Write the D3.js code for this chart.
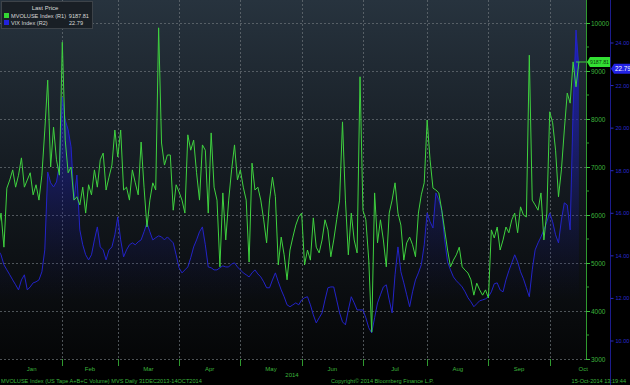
<!DOCTYPE html>
<html>
<head>
<meta charset="utf-8">
<script src="https://cdn.jsdelivr.net/npm/d3@7"></script>
<style>
  html, body { margin: 0; padding: 0; background: #000; }
  svg { display: block; }
  text { font-family: "Liberation Sans", Arial, sans-serif; }
</style>
</head>
<body>
<svg class="main-chart" width="630" height="385"></svg>
<script>
// ---------------------------------------------------------------
// data : daily closes, 31 Dec 2013 .. 14 Oct 2014 (trading days)
// ---------------------------------------------------------------
var holidays = ["2014-01-01", "2014-01-20", "2014-02-17", "2014-04-18", "2014-05-26", "2014-07-04", "2014-09-01"];
var monthNames = ["Jan", "Feb", "Mar", "Apr", "May", "Jun", "Jul", "Aug", "Sep", "Oct"];

var mvoluse = [5690, 6040, 5330, 6560, 6730, 6940, 6580, 6830, 7190, 6580,
  6730, 6880, 6420, 6630, 6310, 6830, 7770, 8810, 7000, 7830,
  7150, 6830, 9600, 7560, 6880, 7000, 6310, 6380, 6210, 6580,
  6040, 6630, 6420, 6940, 6580, 7150, 7290, 6520, 6790, 7040,
  7770, 7210, 7770, 6520, 6580, 6310, 6940, 6670, 6420, 7520,
  6580, 5750, 6310, 6670, 6520, 9900, 7500, 7040, 7250, 7250,
  6100, 6630, 6480, 6310, 6040, 7670, 7350, 7560, 6880, 6310,
  7460, 7350, 6040, 7710, 6580, 6310, 4920, 6460, 5480, 6310,
  6940, 7460, 6730, 6940, 6580, 6310, 5020, 7080, 6520, 6580,
  6310, 5900, 5420, 6310, 6790, 6380, 4960, 5540, 5170, 4650,
  5270, 5540, 5790, 5960, 6040, 4960, 5270, 5060, 5940, 5330,
  5210, 5480, 5900, 5690, 5130, 5480, 5900, 6310, 7940, 6310,
  5170, 6040, 5480, 5210, 8880, 6100, 5900, 5060, 3560, 6460,
  5420, 5900, 5480, 4920, 6040, 6310, 6670, 6040, 5790, 5060,
  5420, 5540, 5380, 5130, 6040, 6420, 6670, 7980, 7150, 6560,
  6520, 6460, 6100, 5690, 5270, 4920, 5060, 5170, 5330, 4920,
  4850, 4790, 4650, 4330, 4580, 4440, 4330, 4440, 4270, 5690,
  5520, 5750, 5270, 5480, 5750, 5630, 5900, 6040, 5630, 6170,
  6000, 5960, 9330, 6310, 6210, 6100, 6460, 5480, 6040, 8150,
  7920, 7350, 6380, 6940, 7770, 8540, 8330, 9190, 8670, 9187.81];

var vix = [14.28, 14.05, 13.58, 13.34, 13.11, 12.87, 12.64, 12.40, 12.87, 13.11,
  12.40, 12.54, 12.73, 12.78, 12.87, 13.25, 14.28, 17.94, 17.43, 17.24,
  17.47, 18.27, 21.46, 20.38, 19.92, 19.12, 16.63, 17.80, 15.22, 14.52,
  14.05, 13.81, 14.05, 14.75, 15.36, 14.42, 14.28, 13.81, 14.28, 14.42,
  14.99, 15.83, 14.75, 13.95, 14.28, 14.52, 14.61, 14.52, 14.66, 14.75,
  15.13, 15.55, 15.13, 14.75, 14.85, 14.94, 14.89, 14.75, 14.89, 14.75,
  14.61, 14.05, 13.44, 13.20, 13.34, 13.48, 13.91, 14.42, 14.75, 15.13,
  15.36, 14.52, 13.48, 13.44, 13.34, 13.34, 13.44, 13.53, 13.48, 13.48,
  13.62, 13.67, 13.48, 13.34, 13.20, 13.11, 13.01, 13.20, 13.34, 13.15,
  13.01, 12.78, 12.50, 12.50, 12.87, 13.20, 12.78, 12.40, 12.08, 11.70,
  11.61, 11.70, 11.79, 11.70, 11.93, 12.03, 12.08, 11.70, 11.23, 10.85,
  11.09, 11.32, 11.93, 12.50, 12.54, 12.54, 11.93, 11.32, 10.90, 10.76,
  11.46, 12.08, 11.79, 11.46, 11.46, 11.46, 11.09, 10.62, 10.38, 11.09,
  11.79, 12.17, 12.54, 12.64, 11.93, 11.32, 13.11, 14.42, 13.25, 12.73,
  12.17, 11.61, 12.31, 12.87, 13.20, 13.58, 14.52, 16.02, 15.60, 15.31,
  16.96, 16.63, 16.16, 14.75, 13.72, 13.34, 13.01, 12.83, 12.69, 12.54,
  12.31, 12.03, 11.84, 11.61, 11.75, 11.89, 11.93, 11.98, 12.08, 12.31,
  12.69, 12.73, 12.40, 12.31, 12.87, 13.30, 13.67, 14.05, 13.72, 13.25,
  12.92, 12.50, 12.08, 13.34, 14.28, 14.61, 14.89, 15.22, 15.60, 16.02,
  15.60, 14.99, 14.61, 15.69, 16.49, 16.39, 15.22, 20.85, 24.61, 22.79];

var greenTicks = [3000, 4000, 5000, 6000, 7000, 8000, 9000, 10000];
var blueTicks = [10, 12, 14, 16, 18, 20, 22, 24];

var footerLeft = "MVOLUSE Index (US Tape A+B+C Volume) MVS  Daily 31DEC2013-14OCT2014";
var footerMid = "Copyright\u00A9 2014 Bloomberg Finance L.P.";
var footerRight = "15-Oct-2014 13:19:44";

// trading calendar
var fmt = d3.timeFormat("%Y-%m-%d");
var dates = d3.timeDay.range(new Date(2013, 11, 31), new Date(2014, 9, 15))
  .filter(d => d.getDay() != 0 && d.getDay() != 6 && holidays.indexOf(fmt(d)) < 0);

var GREEN = "#3fd23f", BLUE = "#2323c8", TXTG = "#3cb43c";

var svg = d3.select("svg.main-chart");
var plotR = 586, plotB = 359;

var xScale = d3.scaleLinear().domain([0, dates.length - 1]).range([-1.9, 576]);
var yGreen = d3.scaleLinear().domain([3000, 10000]).range([359, 23]);
var yBlue = d3.scaleLinear().domain([10, 24]).range([341, 43]);

var defs = svg.append("defs");
var bg = defs.append("linearGradient").attr("id", "bgGrad")
  .attr("gradientUnits", "userSpaceOnUse").attr("x1", 0).attr("y1", 0).attr("x2", 0).attr("y2", plotB);
bg.append("stop").attr("offset", 0).attr("stop-color", "#27333e");
bg.append("stop").attr("offset", 0.5).attr("stop-color", "#141a20");
bg.append("stop").attr("offset", 1).attr("stop-color", "#050607");

var ag = defs.append("linearGradient").attr("id", "areaGrad")
  .attr("gradientUnits", "userSpaceOnUse").attr("x1", 0).attr("y1", 20).attr("x2", 0).attr("y2", 300);
ag.append("stop").attr("offset", 0).attr("stop-color", "#1f1fd0").attr("stop-opacity", 0.95);
ag.append("stop").attr("offset", 0.55).attr("stop-color", "#1a1aa8").attr("stop-opacity", 0.4);
ag.append("stop").attr("offset", 1).attr("stop-color", "#10106a").attr("stop-opacity", 0);

defs.append("clipPath").attr("id", "plotClip").append("rect")
  .attr("x", 0).attr("y", 0).attr("width", plotR).attr("height", plotB);

svg.append("rect").attr("x", 0).attr("y", 0).attr("width", plotR).attr("height", plotB)
  .attr("fill", "url(#bgGrad)");

// first trading day of each month (Jan .. Oct)
var monthStarts = [];
dates.forEach(function(d, i) {
  if (i > 0 && d.getMonth() != dates[i - 1].getMonth()) monthStarts.push(i);
});

var grid = svg.append("g").attr("class", "grid");
grid.selectAll("line.h").data(greenTicks).enter().append("line")
  .attr("x1", 0).attr("x2", plotR)
  .attr("y1", d => yGreen(d) + 0.5).attr("y2", d => yGreen(d) + 0.5)
  .attr("stroke", "#6d747a").attr("stroke-width", 0.7).attr("stroke-dasharray", "2,2");
grid.selectAll("line.v").data(monthStarts.slice(1)).enter().append("line")
  .attr("x1", d => Math.round(xScale(d)) + 0.5).attr("x2", d => Math.round(xScale(d)) + 0.5)
  .attr("y1", 0).attr("y2", plotB)
  .attr("stroke", "#6d747a").attr("stroke-width", 0.7).attr("stroke-dasharray", "2,2");

// series
var plot = svg.append("g").attr("clip-path", "url(#plotClip)");
var area = d3.area().x((d, i) => xScale(i)).y0(plotB).y1(d => yBlue(d));
var blueLine = d3.line().x((d, i) => xScale(i)).y(d => yBlue(d));
var greenLine = d3.line().x((d, i) => xScale(i)).y(d => yGreen(d));

plot.append("path").datum(vix).attr("d", area).attr("fill", "url(#areaGrad)");
plot.append("path").datum(vix).attr("d", blueLine)
  .attr("fill", "none").attr("stroke", BLUE).attr("stroke-width", 1);
plot.append("path").datum(mvoluse).attr("d", greenLine)
  .attr("fill", "none").attr("stroke", GREEN).attr("stroke-width", 1);

var lastG = mvoluse[mvoluse.length - 1], lastB = vix[vix.length - 1];
svg.append("line").attr("x1", xScale(dates.length - 1)).attr("x2", plotR + 2)
  .attr("y1", yGreen(lastG)).attr("y2", yGreen(lastG))
  .attr("stroke", GREEN).attr("stroke-width", 1);

// green axis (R1)
var gAxis = svg.append("g").attr("id", "greenAxis");
gAxis.append("line").attr("x1", plotR + 0.5).attr("x2", plotR + 0.5).attr("y1", 0).attr("y2", plotB + 1)
  .attr("stroke", "#2f9a2f").attr("stroke-width", 1);
var minorG = d3.range(3500, 10001, 1000);
gAxis.selectAll("line.minor").data(minorG).enter().append("line")
  .attr("x1", plotR).attr("x2", plotR + 3)
  .attr("y1", d => yGreen(d)).attr("y2", d => yGreen(d))
  .attr("stroke", "#2f9a2f");
gAxis.selectAll("line.major").data(greenTicks).enter().append("line")
  .attr("x1", plotR).attr("x2", plotR + 4)
  .attr("y1", d => yGreen(d) + 0.5).attr("y2", d => yGreen(d) + 0.5)
  .attr("stroke", "#3cc03c");
gAxis.selectAll("text").data(greenTicks).enter().append("text")
  .attr("x", plotR + 5).attr("y", d => yGreen(d) + 2.5)
  .attr("font-size", "6.5px").attr("fill", TXTG)
  .text(d => d);

// blue axis (R2)
var bAxisX = 610.5;
var bAxis = svg.append("g").attr("id", "blueAxis");
bAxis.append("line").attr("x1", bAxisX).attr("x2", bAxisX).attr("y1", 0).attr("y2", 385)
  .attr("stroke", "#1c1c8c").attr("stroke-width", 1);
bAxis.selectAll("line.major").data(blueTicks).enter().append("line")
  .attr("x1", bAxisX).attr("x2", bAxisX + 3)
  .attr("y1", d => yBlue(d)).attr("y2", d => yBlue(d))
  .attr("stroke", "#2a2ac0");
bAxis.selectAll("text").data(blueTicks).enter().append("text")
  .attr("x", bAxisX + 5).attr("y", d => yBlue(d) + 2)
  .attr("font-size", "5.5px").attr("fill", "#2a2ad0")
  .text(d => d3.format(".2f")(d));

// last value tags
var gy = yGreen(lastG);
svg.append("path")
  .attr("d", "M" + (plotR + 1) + "," + gy + " l3,-5 h20 v10 h-20 z")
  .attr("fill", "#33e033");
svg.append("text").attr("x", plotR + 4).attr("y", gy + 2.2)
  .attr("font-size", "5.8px").attr("fill", "#0c3a0c")
  .attr("textLength", 19).attr("lengthAdjust", "spacingAndGlyphs")
  .text(d3.format(".2f")(lastG));
var by = yBlue(lastB);
svg.append("path")
  .attr("d", "M" + (bAxisX + 0.5) + "," + by + " l3,-5 h16 v10 h-16 z")
  .attr("fill", "#2323e6");
svg.append("text").attr("x", bAxisX + 4.5).attr("y", by + 2.3)
  .attr("font-size", "6.3px").attr("fill", "#ffffff").text(d3.format(".2f")(lastB));

// bottom axis
var bottom = svg.append("g").attr("id", "xAxisG");
bottom.selectAll("line.sep").data(monthStarts.slice(1)).enter().append("line")
  .attr("x1", d => Math.round(xScale(d)) + 0.5).attr("x2", d => Math.round(xScale(d)) + 0.5)
  .attr("y1", plotB).attr("y2", plotB + 7)
  .attr("stroke", "#2f9a2f").attr("stroke-width", 1);
var step = xScale(1) - xScale(0);
bottom.selectAll("text.month").data(monthNames).enter().append("text")
  .attr("class", "month")
  .attr("x", function(d, i) {
    var a = xScale(monthStarts[i]);
    var b = i + 1 < monthStarts.length ? xScale(monthStarts[i + 1]) : a + 23 * step;
    return (a + b) / 2;
  })
  .attr("y", 371).attr("text-anchor", "middle")
  .attr("font-size", "6px").attr("fill", TXTG)
  .text(d => d);
bottom.append("text").attr("x", 292).attr("y", 377).attr("text-anchor", "middle")
  .attr("font-size", "6px").attr("fill", TXTG).text("2014");

svg.append("text").attr("x", 1).attr("y", 383).attr("font-size", "5.6px").attr("fill", TXTG).text(footerLeft);
svg.append("text").attr("x", 331).attr("y", 383).attr("font-size", "5.6px").attr("fill", TXTG).text(footerMid);
svg.append("text").attr("x", 626).attr("y", 383).attr("text-anchor", "end")
  .attr("font-size", "5.6px").attr("fill", TXTG).text(footerRight);

// legend
var leg = svg.append("g").attr("id", "legend");
leg.append("rect").attr("x", 1.5).attr("y", 1.5).attr("width", 91).attr("height", 27)
  .attr("fill", "#191f25").attr("stroke", "#3d4349").attr("stroke-width", 1);
leg.append("text").attr("x", 45).attr("y", 10).attr("text-anchor", "middle")
  .attr("font-size", "6px").attr("fill", "#d8d8d8").text("Last Price");
var legRows = [
  { name: "MVOLUSE Index  (R1)", value: d3.format(".2f")(lastG), color: "#33d633", end: 89 },
  { name: "VIX Index  (R2)", value: d3.format(".2f")(lastB), color: "#2222dd", end: 83 }
];
legRows.forEach(function(r, i) {
  var y = 13 + i * 7;
  leg.append("rect").attr("x", 4).attr("y", y).attr("width", 5).attr("height", 5).attr("fill", r.color);
  leg.append("text").attr("x", 11).attr("y", y + 4.7).attr("font-size", "5.6px").attr("fill", "#d8d8d8").text(r.name);
  leg.append("text").attr("x", r.end).attr("y", y + 4.7).attr("text-anchor", "end")
    .attr("font-size", "5.6px").attr("fill", "#d8d8d8").text(r.value);
});
</script>
</body>
</html>
